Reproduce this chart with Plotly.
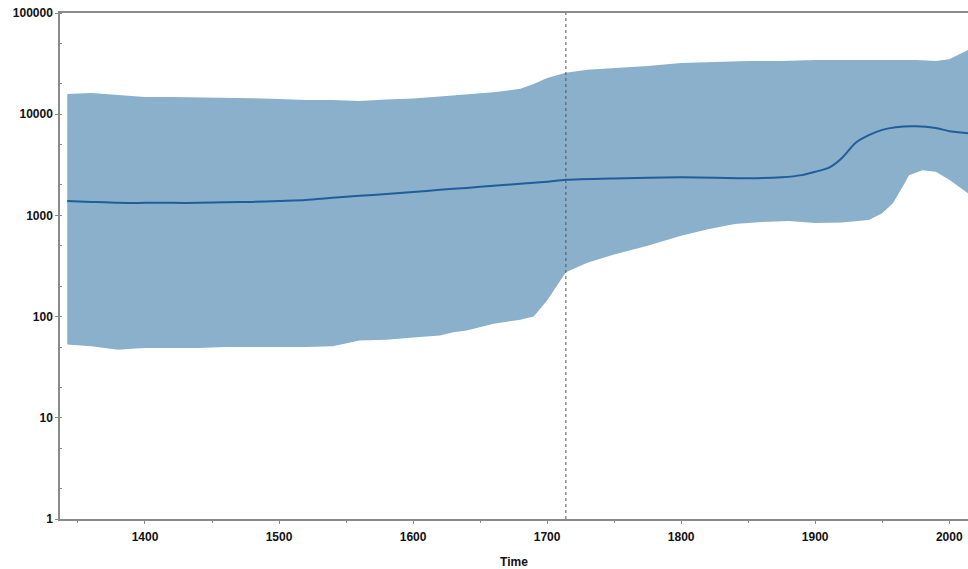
import plotly.graph_objects as go

# Upper bound of HPD interval
upper_years = [1342, 1360, 1380, 1400, 1420, 1440, 1460, 1480, 1500, 1520, 1540, 1560, 1580,
               1600, 1620, 1640, 1660, 1680, 1690, 1700, 1714, 1730, 1750, 1775, 1800, 1825,
               1850, 1875, 1900, 1925, 1950, 1975, 1990, 2000, 2014]
upper_vals = [15800, 16200, 15500, 14800, 14800, 14700, 14700, 14400, 14100, 13800, 13800, 13500, 14000,
              14300, 15000, 15800, 16500, 17800, 19900, 22800, 25700, 27500, 28500, 30000, 32000, 32800,
              33500, 33600, 34300, 34300, 34300, 34300, 33600, 35000, 43000]

# Median
median_years = [1342, 1360, 1380, 1400, 1420, 1440, 1460, 1480, 1500, 1520, 1540, 1560, 1580,
                1600, 1620, 1640, 1660, 1680, 1700, 1714, 1750, 1800, 1850, 1875, 1890, 1900,
                1910, 1920, 1930, 1940, 1950, 1960, 1975, 1990, 2000, 2014]
median_vals = [1390, 1360, 1330, 1330, 1330, 1330, 1350, 1360, 1390, 1420, 1490, 1560, 1630,
               1700, 1790, 1870, 1960, 2050, 2150, 2250, 2320, 2380, 2330, 2380, 2500, 2700,
               2950, 3700, 5200, 6200, 7000, 7450, 7600, 7300, 6800, 6500]

# Lower bound of HPD interval
lower_years = [1342, 1360, 1380, 1390, 1400, 1420, 1440, 1460, 1480, 1500, 1520, 1540, 1560,
               1580, 1600, 1620, 1630, 1640, 1660, 1680, 1690, 1700, 1714, 1730, 1750, 1775,
               1800, 1820, 1840, 1860, 1880, 1900, 1920, 1940, 1950, 1958, 1965, 1970, 1980,
               1990, 2000, 2014]
lower_vals = [53, 51, 47, 48, 49, 49, 49, 50, 50, 50, 50, 51, 58,
              59, 62, 65, 70, 73, 85, 93, 100, 144, 275, 340, 410, 500,
              630, 730, 820, 860, 880, 840, 850, 900, 1050, 1320, 1900, 2500, 2800,
              2700, 2250, 1660]

marker_year = 1714

y_tickvals = [1, 10, 100, 1000, 10000, 100000]
y_ticktext = ["1", "10", "100", "1000", "10000", "100000"]
x_tickvals = [1400, 1500, 1600, 1700, 1800, 1900, 2000]

fig = go.Figure()

band_x = upper_years + lower_years[::-1]
band_y = upper_vals + lower_vals[::-1]
fig.add_trace(go.Scatter(
    x=band_x, y=band_y, mode="lines", fill="toself",
    fillcolor="#8AB0CC", line=dict(width=0, color="#8AB0CC"),
    hoverinfo="skip", showlegend=False))

fig.add_trace(go.Scatter(
    x=median_years, y=median_vals, mode="lines",
    line=dict(color="#1F5E99", width=2, shape="spline", smoothing=0.6),
    showlegend=False))

fig.add_shape(type="line", x0=marker_year, x1=marker_year, y0=0, y1=1,
              xref="x", yref="paper",
              line=dict(color="#555555", width=1, dash="dot"))

font = dict(family="Liberation Sans, Arial, sans-serif", size=12, color="#111111", weight="bold")

fig.update_layout(
    width=968, height=569,
    margin=dict(l=60, r=0, t=13, b=50),
    paper_bgcolor="white", plot_bgcolor="white",
    font=font,
    xaxis=dict(
        range=[1336.6, 2014], showgrid=False, zeroline=False,
        showline=True, linecolor="#8a8a8a", linewidth=1.5, mirror=True,
        tickvals=x_tickvals, ticks="outside", ticklen=3, tickcolor="#8a8a8a",
        ticklabelstandoff=3,
        minor=dict(tickvals=[1350, 1450, 1550, 1650, 1750, 1850, 1950],
                   ticks="outside", ticklen=2, tickcolor="#8a8a8a"),
        tickfont=font,
        title=dict(text="Time", font=font, standoff=15),
    ),
    yaxis=dict(
        type="log", range=[0, 5], showgrid=False, zeroline=False,
        showline=True, linecolor="#8a8a8a", linewidth=1.5,
        tickvals=y_tickvals, ticktext=y_ticktext,
        ticks="outside", ticklen=3, tickcolor="#8a8a8a",
        minor=dict(ticks="inside", ticklen=2, tickcolor="#8a8a8a", showgrid=False),
        tickfont=font,
    ),
)

fig.write_html("out.html", config={"displayModeBar": False},
               post_script="document.body.style.margin='0';document.body.style.overflow='hidden';")
